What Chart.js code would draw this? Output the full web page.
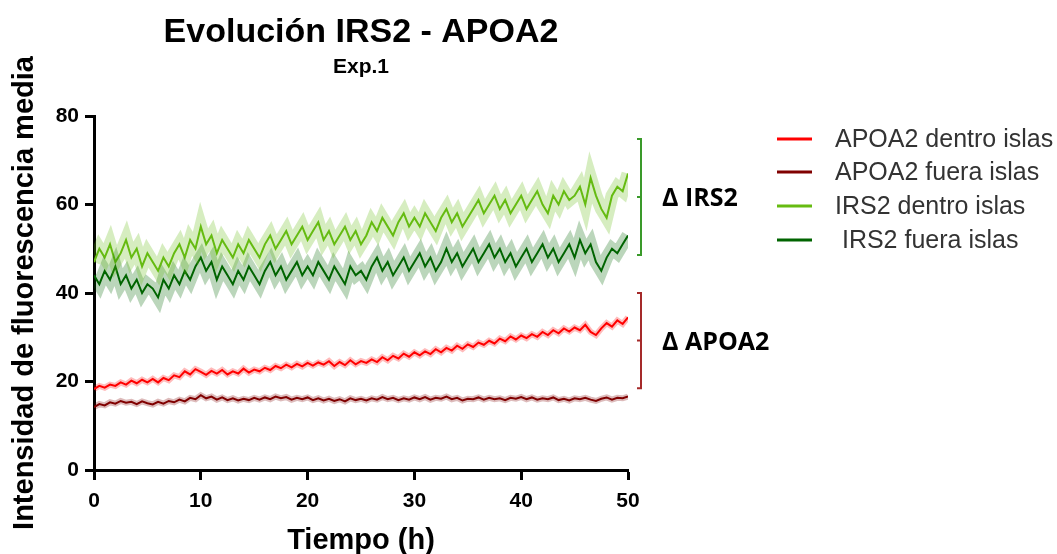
<!DOCTYPE html>
<html>
<head>
<meta charset="utf-8">
<script src="https://cdn.jsdelivr.net/npm/chart.js@4.4.0/dist/chart.umd.min.js"></script>
<style>
  html, body { margin: 0; padding: 0; background: #fff; }
  #wrap { width: 1057px; height: 554px; position: relative; }
</style>
</head>
<body>
<div id="wrap"><canvas id="irsChart"></canvas></div>
<script>
// time points (h)
const timeH = [
  0, 0.5, 1, 1.5, 2, 2.5, 3, 3.5, 4, 4.5, 5, 5.5, 6, 6.5, 7, 7.5, 8, 8.5, 9, 9.5,
  10, 10.5, 11, 11.5, 12, 12.5, 13, 13.5, 14, 14.5, 15, 15.5, 16, 16.5, 17, 17.5, 18, 18.5, 19, 19.5,
  20, 20.5, 21, 21.5, 22, 22.5, 23, 23.5, 24, 24.5, 25, 25.5, 26, 26.5, 27, 27.5, 28, 28.5, 29, 29.5,
  30, 30.5, 31, 31.5, 32, 32.5, 33, 33.5, 34, 34.5, 35, 35.5, 36, 36.5, 37, 37.5, 38, 38.5, 39, 39.5,
  40, 40.5, 41, 41.5, 42, 42.5, 43, 43.5, 44, 44.5, 45, 45.5, 46, 46.5, 47, 47.5, 48, 48.5, 49, 49.5, 50
];

const apoa2Dentro = [
  18.3, 19.0, 18.6, 19.3, 19.0, 19.8, 19.3, 20.2, 19.6, 20.4, 19.8,
  20.6, 19.8, 20.8, 20.3, 21.4, 21.0, 22.3, 21.6, 22.8, 22.2,
  21.5, 22.4, 21.8, 22.6, 21.6, 22.3, 21.8, 22.9, 22.0, 22.7,
  22.3, 23.1, 22.6, 23.5, 23.0, 23.8, 23.2, 24.0, 23.4, 24.2,
  23.6, 24.3, 23.8, 24.6, 23.5, 24.4, 23.7, 24.8, 23.9, 24.6,
  24.2, 25.0, 24.4, 25.5, 24.8, 25.8, 25.2, 26.3, 25.6, 26.6,
  25.9, 26.8, 26.2, 27.3, 26.6, 27.6, 27.0, 28.1, 27.4, 28.4,
  27.8, 28.8, 28.3, 29.2, 28.6, 29.7, 29.1, 30.2, 29.5, 30.4,
  29.8, 30.7, 30.1, 31.2, 30.5, 31.6, 30.9, 32.0, 31.3, 32.2,
  31.6, 32.8, 31.2, 30.5, 32.0, 33.2, 32.4, 33.8, 33.0, 34.5
];

const apoa2Fuera = [
  14.2, 14.9, 14.6, 15.3, 15.0, 15.6, 15.2, 15.4, 14.9, 15.5, 15.1,
  14.8, 15.4, 15.0, 15.6, 15.3, 15.9, 15.5, 16.3, 16.0, 16.9,
  16.2, 16.6, 15.9, 16.4, 15.8, 16.2, 15.7, 16.1, 15.8, 16.3,
  15.9, 16.4, 16.0, 16.6, 16.2, 16.5, 15.9, 16.3, 16.0, 16.4,
  15.8, 16.2, 15.7, 16.1, 15.6, 16.0, 15.5, 16.2, 15.8, 16.1,
  15.7, 16.2, 15.9, 16.5, 16.0, 16.3, 15.8, 16.2, 15.9, 16.4,
  16.0, 16.5, 15.9, 16.3, 16.1, 16.6, 16.0, 16.3, 15.7, 16.1,
  16.0, 16.4, 15.9, 16.3, 16.0, 16.2, 15.8, 16.3, 16.1, 16.5,
  16.0, 16.4, 15.9, 16.2, 16.0, 16.4, 15.8, 16.1, 15.7, 16.2,
  16.0, 16.3, 15.9, 15.6, 16.1, 16.4, 15.9, 16.3, 16.2, 16.6
];

const irs2Dentro = [
  47, 50, 48, 51, 47, 49, 52, 48, 50, 46, 49,
  47, 45, 48, 46, 49, 51, 48, 52, 50, 55,
  51, 53, 49, 52, 50, 48, 51, 49, 52, 50,
  48, 51, 53, 50, 52, 54, 51, 53, 55, 52,
  54, 56, 52, 54, 51, 53, 55, 52, 54, 51,
  53, 56, 54, 57, 55, 53, 56, 58, 55, 57,
  55, 58, 56, 54, 57, 59, 56, 58, 55, 57,
  59, 61, 58, 60, 62, 59, 61, 58, 60, 62,
  59, 61, 63, 60, 58, 62, 60, 63, 61, 62,
  64, 60, 66, 62, 59, 57, 62, 64, 63, 67
];

const irs2Fuera = [
  44, 42, 45, 43, 46, 42, 44, 41, 43, 40, 42,
  41, 39, 43, 41, 44, 42, 45, 43, 46, 48,
  45, 47, 43, 46, 44, 42, 45, 43, 46, 44,
  42, 45, 47, 44, 46, 43, 45, 47, 44, 46,
  44, 47, 45, 43, 46, 44, 42, 46, 44, 45,
  43, 46, 48, 45, 47, 44, 46, 48, 45, 47,
  49, 46, 48, 45, 47, 50, 47, 49, 46, 48,
  50, 47, 49, 51, 48, 50, 47, 49, 46, 48,
  50, 47, 49, 51, 48, 50, 47, 49, 51, 48,
  52, 49, 51, 47, 45, 48, 50, 49, 51, 53
];

const seriesNames = ['APOA2 dentro islas', 'APOA2 fuera islas', 'IRS2 dentro islas', ' IRS2 fuera islas'];
const seriesColors = ['#ff0000', '#800000', '#66bb11', '#006400'];
const yTicks = [0, 20, 40, 60, 80];
const xTicks = [0, 10, 20, 30, 40, 50];

// bracket annotations: [top value, bottom value, label, colour]
const brackets = [
  [74.8, 48.6, '\u0394 IRS2', '#3a9a2a'],
  [40.0, 18.5, '\u0394 APOA2', '#a52a2a']
];

const allSeries = [apoa2Dentro, apoa2Fuera, irs2Dentro, irs2Fuera];
const toPts = (vals) => timeH.map((t, i) => ({ x: t, y: vals[i] }));

const datasets = [];
// faint wide line behind each series (error spread)
allSeries.forEach((vals, i) => {
  datasets.push({
    label: seriesNames[i] + ' sem',
    data: toPts(vals),
    borderColor: seriesColors[i] + '44',
    borderWidth: i < 2 ? 6 : 13,
    pointRadius: 0,
    tension: 0
  });
});
allSeries.forEach((vals, i) => {
  datasets.push({
    label: seriesNames[i],
    data: toPts(vals),
    borderColor: seriesColors[i],
    borderWidth: 2,
    pointRadius: 0,
    tension: 0
  });
});

const FONT = '"Liberation Sans", Arial, sans-serif';

const extrasPlugin = {
  id: 'extras',
  afterDraw(chart) {
    const { ctx, chartArea, scales } = chart;
    const y = scales.y;
    ctx.save();

    // title + subtitle centred over the plot
    const cx = (chartArea.left + chartArea.right) / 2;
    ctx.fillStyle = '#000';
    ctx.textAlign = 'center';
    ctx.textBaseline = 'middle';
    ctx.font = 'bold 34px ' + FONT;
    ctx.fillText('Evolución IRS2 - APOA2', cx, 33);
    ctx.font = 'bold 21px ' + FONT;
    ctx.fillText('Exp.1', cx, 67);

    // legend
    ctx.textAlign = 'left';
    ctx.font = '25px ' + FONT;
    const legendY = [139, 172, 206, 240];
    seriesNames.forEach((name, i) => {
      ctx.strokeStyle = seriesColors[i];
      ctx.lineWidth = 3;
      ctx.beginPath();
      ctx.moveTo(777, legendY[i]);
      ctx.lineTo(812, legendY[i]);
      ctx.stroke();
      ctx.fillStyle = '#333';
      ctx.fillText(name, 835, legendY[i] + 1);
    });

    // brackets
    brackets.forEach(([top, bottom, label, col]) => {
      const yt = y.getPixelForValue(top);
      const yb = y.getPixelForValue(bottom);
      const ym = (yt + yb) / 2;
      const bx = chartArea.right + 13;
      ctx.strokeStyle = col;
      ctx.lineWidth = 2;
      ctx.beginPath();
      ctx.moveTo(bx - 4, yt); ctx.lineTo(bx, yt);
      ctx.lineTo(bx, yb); ctx.lineTo(bx - 4, yb);
      ctx.moveTo(bx, ym); ctx.lineTo(bx - 4, ym);
      ctx.stroke();
      ctx.fillStyle = '#000';
      ctx.font = 'bold 25px "Open Sans", sans-serif';
      ctx.fillText(label, bx + 21, ym + 2);
    });
    ctx.restore();
  }
};

new Chart(document.getElementById('irsChart'), {
  type: 'line',
  data: { datasets },
  options: {
    responsive: true,
    maintainAspectRatio: false,
    animation: false,
    layout: { padding: { top: 116, right: 429, bottom: 0, left: 0 } },
    plugins: {
      legend: { display: false },
      tooltip: { enabled: false },
      title: { display: false }
    },
    scales: {
      x: {
        type: 'linear',
        min: 0,
        max: 50,
        afterFit: (s) => { s.height = 84; },
        afterBuildTicks: (s) => { s.ticks = xTicks.map(v => ({ value: v })); },
        grid: { drawOnChartArea: false, drawTicks: true, tickLength: 10, tickWidth: 3, tickColor: '#000' },
        border: { display: true, width: 3, color: '#000' },
        ticks: { color: '#000', padding: 9, font: { family: FONT, size: 21, weight: 'bold' } },
        title: {
          display: true,
          text: 'Tiempo (h)',
          color: '#000',
          padding: { top: 0, bottom: -4 },
          font: { family: FONT, size: 29, weight: 'bold' }
        }
      },
      y: {
        min: 0,
        max: 80,
        afterFit: (s) => { s.width = 94; },
        afterBuildTicks: (s) => { s.ticks = yTicks.map(v => ({ value: v })); },
        grid: { drawOnChartArea: false, drawTicks: true, tickLength: 9, tickWidth: 3, tickColor: '#000' },
        border: { display: true, width: 3, color: '#000' },
        ticks: { color: '#000', padding: 6, font: { family: FONT, size: 21, weight: 'bold' } },
        title: {
          display: true,
          text: 'Intensidad de fluorescencia media',
          color: '#000',
          padding: { top: 8, bottom: 0 },
          font: { family: FONT, size: 29, weight: 'bold' }
        }
      }
    }
  },
  plugins: [extrasPlugin]
});
</script>
</body>
</html>
